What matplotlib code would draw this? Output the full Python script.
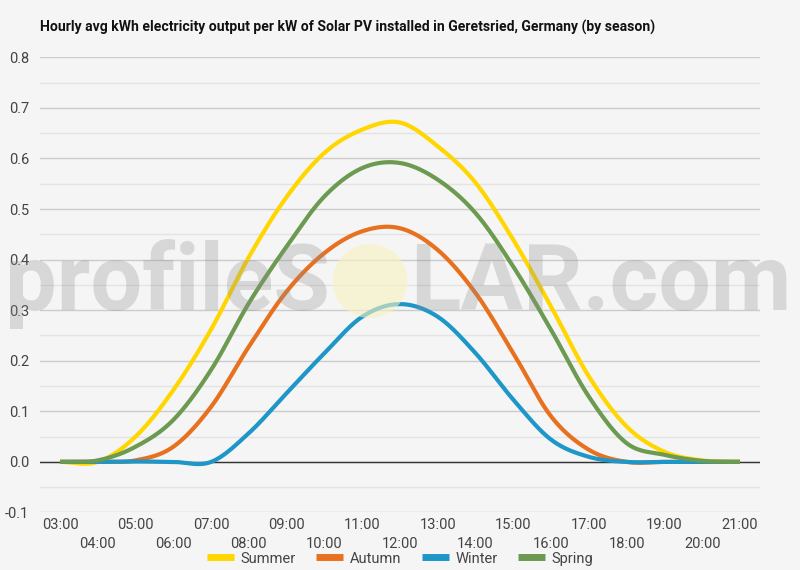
import numpy as np
import matplotlib
matplotlib.use("Agg")
import matplotlib.pyplot as plt
from matplotlib.patches import Ellipse

plt.rcParams['font.family'] = ['Roboto', 'DejaVu Sans']

hours = list(range(3, 22))
hour_labels = [f"{h:02d}:00" for h in hours]

summer = [0.0, 0.0, 0.05, 0.142, 0.262, 0.405, 0.524, 0.611, 0.657, 0.671, 0.624, 0.552,
          0.439, 0.307, 0.169, 0.07, 0.02, 0.003, 0.0]
autumn = [0.0, 0.0, 0.003, 0.03, 0.109, 0.228, 0.337, 0.413, 0.456, 0.462, 0.419, 0.334,
          0.215, 0.09, 0.024, 0.0, 0.0, 0.0, 0.0]
winter = [0.0, 0.0, 0.001, 0.0, 0.0, 0.057, 0.136, 0.215, 0.287, 0.312, 0.287, 0.215,
          0.123, 0.044, 0.01, 0.0, 0.0, 0.0, 0.0]
spring = [0.0, 0.003, 0.03, 0.083, 0.182, 0.314, 0.426, 0.525, 0.581, 0.591, 0.558, 0.492,
          0.386, 0.261, 0.129, 0.037, 0.014, 0.002, 0.0]

series = [("Summer", summer, "#FFD600"),
          ("Autumn", autumn, "#E8711F"),
          ("Winter", winter, "#1E96C8"),
          ("Spring", spring, "#6B9A50")]


def smooth(x, y, n=30):
    x = np.asarray(x, float)
    y = np.asarray(y, float)
    m = np.zeros_like(y)
    m[1:-1] = (y[2:] - y[:-2]) / (x[2:] - x[:-2])
    m[0] = (y[1] - y[0]) / (x[1] - x[0])
    m[-1] = (y[-1] - y[-2]) / (x[-1] - x[-2])
    xs, ys = [], []
    for i in range(len(x) - 1):
        h = x[i + 1] - x[i]
        t = np.linspace(0, 1, n, endpoint=False)
        h00 = 2 * t**3 - 3 * t**2 + 1
        h10 = t**3 - 2 * t**2 + t
        h01 = -2 * t**3 + 3 * t**2
        h11 = t**3 - t**2
        xs.append(x[i] + t * h)
        ys.append(h00 * y[i] + h10 * h * m[i] + h01 * y[i + 1] + h11 * h * m[i + 1])
    xs.append([x[-1]])
    ys.append([y[-1]])
    return np.concatenate(xs), np.concatenate(ys)


W, H = 800, 570
bg = "#F5F5F5"
fig = plt.figure(figsize=(8, 5.7), dpi=100, facecolor=bg)
ax = fig.add_axes([0.05, 0.1009, 0.90, 0.7986], facecolor=bg)

for name, vals, col in series:
    sx, sy = smooth(hours, vals)
    ax.plot(sx, sy, color=col, lw=3.0, label=name, solid_capstyle='butt', zorder=3)

ax.set_xlim(2.471, 21.53)
ax.set_ylim(-0.1, 0.8)
ax.set_yticks(np.arange(-0.1, 0.81, 0.1))
ax.set_yticklabels([f"{v:.1f}" for v in np.arange(-0.1, 0.81, 0.1)])
ax.set_yticks(np.arange(-0.05, 0.8, 0.1), minor=True)
ax.yaxis.grid(True, which='major', color="#CCCCCC", lw=1.0, zorder=0)
ax.yaxis.grid(True, which='minor', color="#E3E3E3", lw=1.0, zorder=0)
ax.axhline(0, color="#333333", lw=1.0, zorder=2)

odd = [h for h in hours if h % 2 == 1]
even = [h for h in hours if h % 2 == 0]
ax.set_xticks(odd)
ax.set_xticklabels([hour_labels[hours.index(h)] for h in odd])
ax.set_xticks(even, minor=True)
ax.set_xticklabels([hour_labels[hours.index(h)] for h in even], minor=True)
ax.tick_params(axis='x', which='major', length=0, pad=4, labelsize=10.5, labelcolor="#444444")
ax.tick_params(axis='x', which='minor', length=0, pad=18, labelsize=10.5, labelcolor="#444444")
ax.tick_params(axis='y', which='both', length=0, pad=8, labelsize=10.5, labelcolor="#444444")
for s in ax.spines.values():
    s.set_visible(False)

fig.text(0.05, 0.951, "Hourly avg kWh electricity output per kW of Solar PV installed in Geretsried, Germany (by season)",
         fontsize=10.1, fontweight='bold', color="#111111", ha='left', va='center')

leg = fig.legend(loc='center', bbox_to_anchor=(0.5, 0.02), ncol=4, frameon=False,
                 fontsize=10.5, handlelength=1.85, handletextpad=0.45, columnspacing=1.4,
                 labelcolor="#444444")
for line in leg.get_lines():
    line.set_linewidth(5)

# watermark
wm_col = (0.55, 0.55, 0.55, 0.28)
renderer = fig.canvas.get_renderer()


def fitted_text(x0, x1, base_y, s):
    t = fig.text(x0 / W, 1 - base_y / H, s, fontsize=60, color=wm_col, ha='left',
                 va='baseline', zorder=10, fontweight='bold')
    w = t.get_window_extent(renderer).width
    t.set_fontsize(60 * (x1 - x0) / w)
    return t


fitted_text(5, 330, 310, "profileS")
fitted_text(410, 792, 310, "LAR.com")
fig.patches.append(Ellipse((370 / W, 1 - 281 / H), 75 / W, 74 / H, transform=fig.transFigure,
                           facecolor="#F8F2BE", alpha=0.6, edgecolor='none', zorder=10))

fig.savefig("out.png", dpi=100, facecolor=bg)
